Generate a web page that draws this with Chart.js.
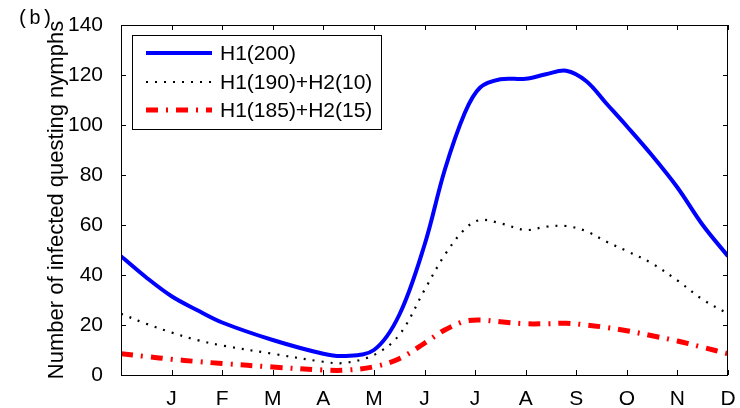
<!DOCTYPE html>
<html>
<head>
<meta charset="utf-8">
<script src="https://cdn.jsdelivr.net/npm/chart.js@4"></script>
<style>
  html, body { margin: 0; padding: 0; background: #fff; }
</style>
</head>
<body>
<canvas id="c" width="740" height="408"></canvas>
<script>
// positions in months (0 = start of year, 12 = end)
const months = [0, 0.5, 1, 1.5, 2, 3, 4, 4.4, 5, 5.5, 6, 6.4, 6.8, 7.1, 7.5, 8, 8.4, 8.8, 9.2, 9.6, 10, 10.5, 11, 11.5, 12]
const monthLabels = ['J', 'F', 'M', 'A', 'M', 'J', 'J', 'A', 'S', 'O', 'N', 'D']
const yTicks = [0, 20, 40, 60, 80, 100, 120, 140]

const h1_200 = [47.5, 39, 31.5, 26, 21, 14, 8.5, 7.6, 10, 24, 52, 82, 105, 115, 118.3, 118.5, 120.3, 121.7, 117.5, 108.5, 99.5, 87.8, 75, 60, 47.5]
const h1_190_h2_10 = [24.5, 20.5, 17, 14, 11.8, 8.5, 5.3, 4.8, 8, 16, 34, 48, 58.4, 62, 60.7, 58, 59.3, 59.6, 57.5, 53.3, 49.6, 44.6, 37.8, 30.2, 24.5]
const h1_185_h2_15 = [8.5, 7.4, 6.3, 5.4, 4.6, 3.2, 2, 1.9, 3.3, 6.5, 12.7, 18, 21.5, 22, 21.3, 20.5, 20.5, 20.7, 20, 19, 17.7, 15.7, 13.6, 11.1, 8.5]

const toPoints = (vals) => vals.map((v, i) => ({ x: months[i], y: v }))

const FONT = 'Liberation Sans, Arial, Helvetica, sans-serif'

// box, inward ticks, legend and panel letter
const decorations = {
  id: 'decorations',
  afterDatasetsDraw(chart) {
    const { ctx, chartArea: a, scales } = chart
    const len = 5
    ctx.save()
    ctx.strokeStyle = '#000'
    ctx.lineWidth = 1
    ctx.strokeRect(a.left + 0.5, a.top + 0.5, a.right - a.left - 1, a.bottom - a.top)

    ctx.beginPath()
    for (let m = 1; m <= 12; m++) {
      const x = Math.round(scales.x.getPixelForValue(m)) + 0.5
      ctx.moveTo(x, a.bottom); ctx.lineTo(x, a.bottom - len)
      ctx.moveTo(x, a.top); ctx.lineTo(x, a.top + len)
    }
    yTicks.forEach(v => {
      const y = Math.round(scales.y.getPixelForValue(v)) + 0.5
      ctx.moveTo(a.left, y); ctx.lineTo(a.left + len, y)
      ctx.moveTo(a.right, y); ctx.lineTo(a.right - len, y)
    })
    ctx.stroke()

    // legend
    const bx = 132, by = 35, bw = 249, bh = 94
    ctx.fillStyle = '#fff'
    ctx.fillRect(bx, by, bw, bh)
    ctx.strokeRect(bx + 0.5, by + 0.5, bw, bh)
    const rows = [53, 82, 110]
    chart.data.datasets.forEach((ds, i) => {
      ctx.save()
      ctx.strokeStyle = ds.borderColor
      ctx.lineWidth = ds.borderWidth
      ctx.setLineDash(ds.borderDash || [])
      ctx.beginPath()
      ctx.moveTo(146, rows[i])
      ctx.lineTo(212, rows[i])
      ctx.stroke()
      ctx.restore()
      ctx.fillStyle = '#000'
      ctx.font = '21px ' + FONT
      ctx.textBaseline = 'middle'
      ctx.textAlign = 'left'
      ctx.fillText(ds.label, 220, rows[i] + 1)
    })

    ctx.font = '20px "Liberation Mono", "Courier New", monospace'
    ctx.textBaseline = 'middle'
    ctx.fillStyle = '#000'
    ctx.fillText('(b)', 17, 19)
    ctx.restore()
  }
}

new Chart(document.getElementById('c'), {
  type: 'line',
  data: {
    datasets: [
      {
        label: 'H1(200)',
        data: toPoints(h1_200),
        borderColor: '#0000ff',
        borderWidth: 4
      },
      {
        label: 'H1(190)+H2(10)',
        data: toPoints(h1_190_h2_10),
        borderColor: '#000000',
        borderWidth: 2.2,
        borderDash: [2, 7]
      },
      {
        label: 'H1(185)+H2(15)',
        data: toPoints(h1_185_h2_15),
        borderColor: '#ff0000',
        borderWidth: 5,
        borderDash: [12, 8, 2, 8]
      }
    ]
  },
  options: {
    responsive: false,
    animation: false,
    layout: { padding: { left: 0, right: 12, top: 25, bottom: 0 } },
    elements: {
      point: { radius: 0 },
      line: { tension: 0.35, fill: false }
    },
    plugins: {
      legend: { display: false },
      tooltip: { enabled: false }
    },
    scales: {
      x: {
        type: 'linear',
        min: 0,
        max: 12,
        grid: { display: false },
        border: { display: false },
        afterBuildTicks: (scale) => {
          scale.ticks = monthLabels.map((_, i) => ({ value: i + 1 }))
        },
        afterFit: (scale) => { scale.height = 33 },
        ticks: {
          autoSkip: false,
          maxRotation: 0,
          padding: 4,
          color: '#000',
          font: { family: FONT, size: 21 },
          callback: (v) => monthLabels[v - 1] || ''
        }
      },
      y: {
        min: 0,
        max: 140,
        grid: { display: false },
        border: { display: false },
        afterBuildTicks: (scale) => {
          scale.ticks = yTicks.map(v => ({ value: v }))
        },
        afterFit: (scale) => { scale.width = 121 },
        ticks: {
          padding: 10,
          color: '#000',
          font: { family: FONT, size: 21 }
        },
        title: {
          display: true,
          text: 'Number of infected questing nymphs',
          color: '#000',
          font: { family: FONT, size: 22 },
          padding: { top: 44, bottom: 0 }
        }
      }
    }
  },
  plugins: [decorations]
})
</script>
</body>
</html>
